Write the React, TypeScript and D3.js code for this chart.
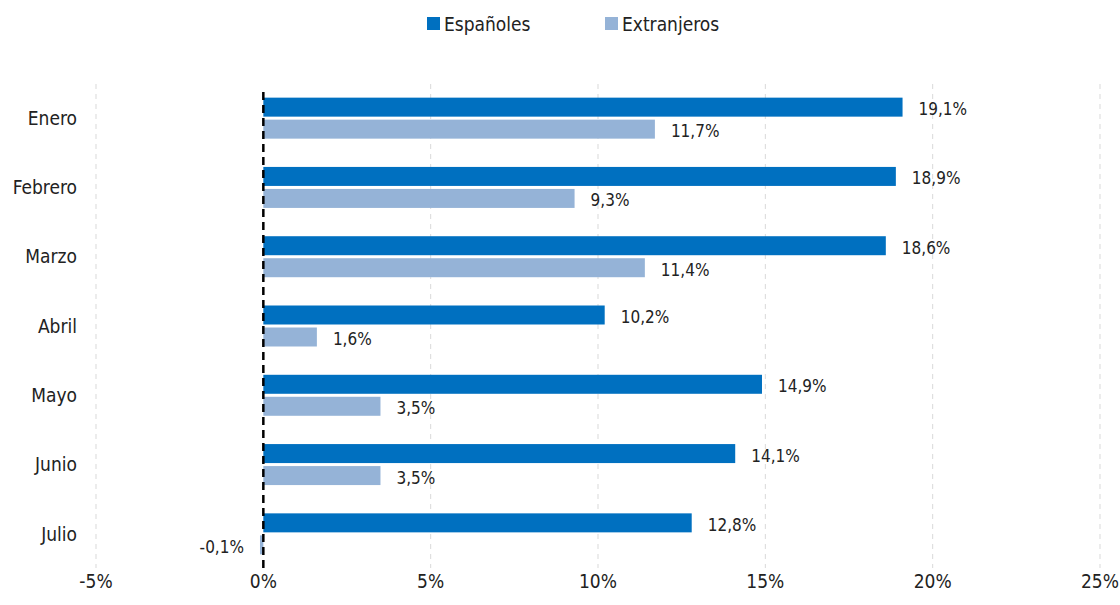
import React from "react";
import * as d3 from "d3";

const months = ["Enero", "Febrero", "Marzo", "Abril", "Mayo", "Junio", "Julio"];
const espanoles = [19.1, 18.9, 18.6, 10.2, 14.9, 14.1, 12.8];
const extranjeros = [11.7, 9.3, 11.4, 1.6, 3.5, 3.5, -0.1];
const xTicks = [-5, 0, 5, 10, 15, 20, 25];
const seriesNames = ["Españoles", "Extranjeros"];
const colors = ["#0070C0", "#95B3D7"];

const W = 1120;
const H = 605;
const FONT = "'Liberation Sans Narrow', 'DejaVu Sans Condensed', 'Roboto Condensed', sans-serif";

export default function App() {
  const x = d3.scaleLinear().domain([-5, 25]).range([96, 1100]);
  const y = d3.scaleBand<string>().domain(months).range([83.5, 568.5]).paddingInner(0).paddingOuter(0);
  const barH = 19;
  const gap = 3;
  const fmt = (v: number) => v.toFixed(1).replace(".", ",") + "%";
  const series = [espanoles, extranjeros];

  return (
    <svg width={W} height={H} style={{ position: "absolute", left: 0, top: 0, background: "#fff" }} fontFamily={FONT}>
      {xTicks.filter((t) => t !== 0).map((t) => (
        <line key={t} x1={x(t)} x2={x(t)} y1={84} y2={568} stroke="#D9D9D9" strokeWidth={1} strokeDasharray="5,5" />
      ))}
      {months.map((m, i) => {
        const c = (y(m) as number) + y.bandwidth() / 2;
        return (
          <g key={m}>
            {series.map((s, k) => {
              const v = s[i];
              const y0 = k === 0 ? c - gap / 2 - barH : c + gap / 2;
              const x0 = Math.min(x(0), x(v));
              const w = Math.abs(x(v) - x(0));
              const lx = v >= 0 ? x(v) + 16 : x(v) - 16;
              return (
                <g key={k}>
                  <rect x={x0} y={y0} width={w} height={barH} fill={colors[k]} />
                  <text x={lx} y={y0 + barH / 2 + 2} dy="0.35em" fontSize={17} fill="#222" textAnchor={v >= 0 ? "start" : "end"}>
                    {fmt(v)}
                  </text>
                </g>
              );
            })}
            <text x={77} y={c} dy="0.35em" fontSize={19} fill="#222" textAnchor="end">{m}</text>
          </g>
        );
      })}
      <line x1={x(0)} x2={x(0)} y1={92} y2={568} stroke="#000" strokeWidth={2.5} strokeDasharray="8,5" />
      {xTicks.map((t) => (
        <text key={t} x={x(t)} y={581} dy="0.35em" fontSize={19} fill="#222" textAnchor="middle">{t + "%"}</text>
      ))}
      {seriesNames.map((n, k) => {
        const lx = k === 0 ? 427 : 605;
        return (
          <g key={n}>
            <rect x={lx} y={17} width={13} height={13} fill={colors[k]} />
            <text x={lx + 17} y={24} dy="0.35em" fontSize={19} fill="#222">{n}</text>
          </g>
        );
      })}
    </svg>
  );
}
